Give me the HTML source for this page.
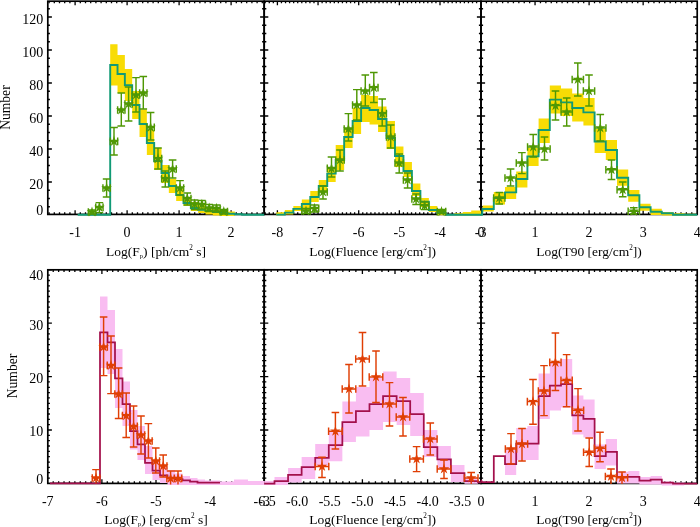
<!DOCTYPE html>
<html><head><meta charset="utf-8"><title>Histograms</title>
<style>
html,body{margin:0;padding:0;background:#fff;}
body{width:700px;height:527px;overflow:hidden;font-family:"Liberation Serif",serif;}
svg{display:block;}
</style></head><body>
<svg width="700" height="527" viewBox="0 0 700 527">
<rect x="0" y="0" width="700" height="527" fill="#fff"/>
<path d="M49.1 214.4v-2.1M49.1 1.2v2.1M54.3 214.4v-2.1M54.3 1.2v2.1M59.5 214.4v-2.1M59.5 1.2v2.1M64.7 214.4v-2.1M64.7 1.2v2.1M69.9 214.4v-2.1M69.9 1.2v2.1M75.1 214.4v-2.1M75.1 1.2v2.1M80.3 214.4v-2.1M80.3 1.2v2.1M85.5 214.4v-2.1M85.5 1.2v2.1M90.7 214.4v-2.1M90.7 1.2v2.1M95.9 214.4v-2.1M95.9 1.2v2.1M101.1 214.4v-2.1M101.1 1.2v2.1M106.3 214.4v-2.1M106.3 1.2v2.1M111.5 214.4v-2.1M111.5 1.2v2.1M116.7 214.4v-2.1M116.7 1.2v2.1M121.9 214.4v-2.1M121.9 1.2v2.1M127.1 214.4v-2.1M127.1 1.2v2.1M132.3 214.4v-2.1M132.3 1.2v2.1M137.5 214.4v-2.1M137.5 1.2v2.1M142.7 214.4v-2.1M142.7 1.2v2.1M147.9 214.4v-2.1M147.9 1.2v2.1M153.1 214.4v-2.1M153.1 1.2v2.1M158.3 214.4v-2.1M158.3 1.2v2.1M163.5 214.4v-2.1M163.5 1.2v2.1M168.7 214.4v-2.1M168.7 1.2v2.1M173.9 214.4v-2.1M173.9 1.2v2.1M179.1 214.4v-2.1M179.1 1.2v2.1M184.3 214.4v-2.1M184.3 1.2v2.1M189.5 214.4v-2.1M189.5 1.2v2.1M194.7 214.4v-2.1M194.7 1.2v2.1M199.9 214.4v-2.1M199.9 1.2v2.1M205.1 214.4v-2.1M205.1 1.2v2.1M210.3 214.4v-2.1M210.3 1.2v2.1M215.5 214.4v-2.1M215.5 1.2v2.1M220.7 214.4v-2.1M220.7 1.2v2.1M225.9 214.4v-2.1M225.9 1.2v2.1M231.1 214.4v-2.1M231.1 1.2v2.1M236.3 214.4v-2.1M236.3 1.2v2.1M241.5 214.4v-2.1M241.5 1.2v2.1M246.7 214.4v-2.1M246.7 1.2v2.1M251.9 214.4v-2.1M251.9 1.2v2.1M257.1 214.4v-2.1M257.1 1.2v2.1M262.3 214.4v-2.1M262.3 1.2v2.1M75.1 214.4v-4.1M75.1 1.2v4.1M127.1 214.4v-4.1M127.1 1.2v4.1M179.1 214.4v-4.1M179.1 1.2v4.1M231.1 214.4v-4.1M231.1 1.2v4.1M47.8 206.75h2.1M264.2 206.75h-2.1M47.8 198.5h2.1M264.2 198.5h-2.1M47.8 190.25h2.1M264.2 190.25h-2.1M47.8 182h2.1M264.2 182h-2.1M47.8 173.75h2.1M264.2 173.75h-2.1M47.8 165.5h2.1M264.2 165.5h-2.1M47.8 157.25h2.1M264.2 157.25h-2.1M47.8 149h2.1M264.2 149h-2.1M47.8 140.75h2.1M264.2 140.75h-2.1M47.8 132.5h2.1M264.2 132.5h-2.1M47.8 124.25h2.1M264.2 124.25h-2.1M47.8 116h2.1M264.2 116h-2.1M47.8 107.75h2.1M264.2 107.75h-2.1M47.8 99.5h2.1M264.2 99.5h-2.1M47.8 91.25h2.1M264.2 91.25h-2.1M47.8 83h2.1M264.2 83h-2.1M47.8 74.75h2.1M264.2 74.75h-2.1M47.8 66.5h2.1M264.2 66.5h-2.1M47.8 58.25h2.1M264.2 58.25h-2.1M47.8 50h2.1M264.2 50h-2.1M47.8 41.75h2.1M264.2 41.75h-2.1M47.8 33.5h2.1M264.2 33.5h-2.1M47.8 25.25h2.1M264.2 25.25h-2.1M47.8 17h2.1M264.2 17h-2.1M47.8 8.75h2.1M264.2 8.75h-2.1M47.8 182h4.1M264.2 182h-4.1M47.8 149h4.1M264.2 149h-4.1M47.8 116h4.1M264.2 116h-4.1M47.8 83h4.1M264.2 83h-4.1M47.8 50h4.1M264.2 50h-4.1M47.8 17h4.1M264.2 17h-4.1" fill="none" stroke="#000" stroke-width="1.3"/>
<rect x="47.8" y="1.2" width="216.4" height="213.2" fill="none" stroke="#000" stroke-width="1.7"/>
<path d="M265.2 214.4v-2.1M265.2 1.2v2.1M269.27 214.4v-2.1M269.27 1.2v2.1M273.33 214.4v-2.1M273.33 1.2v2.1M277.4 214.4v-2.1M277.4 1.2v2.1M281.46 214.4v-2.1M281.46 1.2v2.1M285.53 214.4v-2.1M285.53 1.2v2.1M289.59 214.4v-2.1M289.59 1.2v2.1M293.66 214.4v-2.1M293.66 1.2v2.1M297.72 214.4v-2.1M297.72 1.2v2.1M301.79 214.4v-2.1M301.79 1.2v2.1M305.85 214.4v-2.1M305.85 1.2v2.1M309.92 214.4v-2.1M309.92 1.2v2.1M313.98 214.4v-2.1M313.98 1.2v2.1M318.05 214.4v-2.1M318.05 1.2v2.1M322.12 214.4v-2.1M322.12 1.2v2.1M326.18 214.4v-2.1M326.18 1.2v2.1M330.25 214.4v-2.1M330.25 1.2v2.1M334.31 214.4v-2.1M334.31 1.2v2.1M338.38 214.4v-2.1M338.38 1.2v2.1M342.44 214.4v-2.1M342.44 1.2v2.1M346.5 214.4v-2.1M346.5 1.2v2.1M350.57 214.4v-2.1M350.57 1.2v2.1M354.63 214.4v-2.1M354.63 1.2v2.1M358.7 214.4v-2.1M358.7 1.2v2.1M362.76 214.4v-2.1M362.76 1.2v2.1M366.83 214.4v-2.1M366.83 1.2v2.1M370.89 214.4v-2.1M370.89 1.2v2.1M374.96 214.4v-2.1M374.96 1.2v2.1M379.02 214.4v-2.1M379.02 1.2v2.1M383.09 214.4v-2.1M383.09 1.2v2.1M387.15 214.4v-2.1M387.15 1.2v2.1M391.22 214.4v-2.1M391.22 1.2v2.1M395.28 214.4v-2.1M395.28 1.2v2.1M399.35 214.4v-2.1M399.35 1.2v2.1M403.41 214.4v-2.1M403.41 1.2v2.1M407.48 214.4v-2.1M407.48 1.2v2.1M411.54 214.4v-2.1M411.54 1.2v2.1M415.61 214.4v-2.1M415.61 1.2v2.1M419.67 214.4v-2.1M419.67 1.2v2.1M423.74 214.4v-2.1M423.74 1.2v2.1M427.8 214.4v-2.1M427.8 1.2v2.1M431.87 214.4v-2.1M431.87 1.2v2.1M435.94 214.4v-2.1M435.94 1.2v2.1M440 214.4v-2.1M440 1.2v2.1M444.06 214.4v-2.1M444.06 1.2v2.1M448.13 214.4v-2.1M448.13 1.2v2.1M452.19 214.4v-2.1M452.19 1.2v2.1M456.26 214.4v-2.1M456.26 1.2v2.1M460.32 214.4v-2.1M460.32 1.2v2.1M464.39 214.4v-2.1M464.39 1.2v2.1M468.45 214.4v-2.1M468.45 1.2v2.1M472.52 214.4v-2.1M472.52 1.2v2.1M476.59 214.4v-2.1M476.59 1.2v2.1M277.4 214.4v-4.1M277.4 1.2v4.1M318.05 214.4v-4.1M318.05 1.2v4.1M358.7 214.4v-4.1M358.7 1.2v4.1M399.35 214.4v-4.1M399.35 1.2v4.1M440 214.4v-4.1M440 1.2v4.1M264.2 206.75h2.1M481 206.75h-2.1M264.2 198.5h2.1M481 198.5h-2.1M264.2 190.25h2.1M481 190.25h-2.1M264.2 182h2.1M481 182h-2.1M264.2 173.75h2.1M481 173.75h-2.1M264.2 165.5h2.1M481 165.5h-2.1M264.2 157.25h2.1M481 157.25h-2.1M264.2 149h2.1M481 149h-2.1M264.2 140.75h2.1M481 140.75h-2.1M264.2 132.5h2.1M481 132.5h-2.1M264.2 124.25h2.1M481 124.25h-2.1M264.2 116h2.1M481 116h-2.1M264.2 107.75h2.1M481 107.75h-2.1M264.2 99.5h2.1M481 99.5h-2.1M264.2 91.25h2.1M481 91.25h-2.1M264.2 83h2.1M481 83h-2.1M264.2 74.75h2.1M481 74.75h-2.1M264.2 66.5h2.1M481 66.5h-2.1M264.2 58.25h2.1M481 58.25h-2.1M264.2 50h2.1M481 50h-2.1M264.2 41.75h2.1M481 41.75h-2.1M264.2 33.5h2.1M481 33.5h-2.1M264.2 25.25h2.1M481 25.25h-2.1M264.2 17h2.1M481 17h-2.1M264.2 8.75h2.1M481 8.75h-2.1M264.2 182h4.1M481 182h-4.1M264.2 149h4.1M481 149h-4.1M264.2 116h4.1M481 116h-4.1M264.2 83h4.1M481 83h-4.1M264.2 50h4.1M481 50h-4.1M264.2 17h4.1M481 17h-4.1" fill="none" stroke="#000" stroke-width="1.3"/>
<rect x="264.2" y="1.2" width="216.8" height="213.2" fill="none" stroke="#000" stroke-width="1.7"/>
<path d="M486.4 214.4v-2.1M486.4 1.2v2.1M491.81 214.4v-2.1M491.81 1.2v2.1M497.21 214.4v-2.1M497.21 1.2v2.1M502.62 214.4v-2.1M502.62 1.2v2.1M508.02 214.4v-2.1M508.02 1.2v2.1M513.43 214.4v-2.1M513.43 1.2v2.1M518.84 214.4v-2.1M518.84 1.2v2.1M524.24 214.4v-2.1M524.24 1.2v2.1M529.64 214.4v-2.1M529.64 1.2v2.1M535.05 214.4v-2.1M535.05 1.2v2.1M540.46 214.4v-2.1M540.46 1.2v2.1M545.86 214.4v-2.1M545.86 1.2v2.1M551.26 214.4v-2.1M551.26 1.2v2.1M556.67 214.4v-2.1M556.67 1.2v2.1M562.08 214.4v-2.1M562.08 1.2v2.1M567.48 214.4v-2.1M567.48 1.2v2.1M572.88 214.4v-2.1M572.88 1.2v2.1M578.29 214.4v-2.1M578.29 1.2v2.1M583.7 214.4v-2.1M583.7 1.2v2.1M589.1 214.4v-2.1M589.1 1.2v2.1M594.5 214.4v-2.1M594.5 1.2v2.1M599.91 214.4v-2.1M599.91 1.2v2.1M605.32 214.4v-2.1M605.32 1.2v2.1M610.72 214.4v-2.1M610.72 1.2v2.1M616.12 214.4v-2.1M616.12 1.2v2.1M621.53 214.4v-2.1M621.53 1.2v2.1M626.93 214.4v-2.1M626.93 1.2v2.1M632.34 214.4v-2.1M632.34 1.2v2.1M637.75 214.4v-2.1M637.75 1.2v2.1M643.15 214.4v-2.1M643.15 1.2v2.1M648.56 214.4v-2.1M648.56 1.2v2.1M653.96 214.4v-2.1M653.96 1.2v2.1M659.37 214.4v-2.1M659.37 1.2v2.1M664.77 214.4v-2.1M664.77 1.2v2.1M670.17 214.4v-2.1M670.17 1.2v2.1M675.58 214.4v-2.1M675.58 1.2v2.1M680.99 214.4v-2.1M680.99 1.2v2.1M686.39 214.4v-2.1M686.39 1.2v2.1M691.8 214.4v-2.1M691.8 1.2v2.1M535.05 214.4v-4.1M535.05 1.2v4.1M589.1 214.4v-4.1M589.1 1.2v4.1M643.15 214.4v-4.1M643.15 1.2v4.1M481 206.75h2.1M697.2 206.75h-2.1M481 198.5h2.1M697.2 198.5h-2.1M481 190.25h2.1M697.2 190.25h-2.1M481 182h2.1M697.2 182h-2.1M481 173.75h2.1M697.2 173.75h-2.1M481 165.5h2.1M697.2 165.5h-2.1M481 157.25h2.1M697.2 157.25h-2.1M481 149h2.1M697.2 149h-2.1M481 140.75h2.1M697.2 140.75h-2.1M481 132.5h2.1M697.2 132.5h-2.1M481 124.25h2.1M697.2 124.25h-2.1M481 116h2.1M697.2 116h-2.1M481 107.75h2.1M697.2 107.75h-2.1M481 99.5h2.1M697.2 99.5h-2.1M481 91.25h2.1M697.2 91.25h-2.1M481 83h2.1M697.2 83h-2.1M481 74.75h2.1M697.2 74.75h-2.1M481 66.5h2.1M697.2 66.5h-2.1M481 58.25h2.1M697.2 58.25h-2.1M481 50h2.1M697.2 50h-2.1M481 41.75h2.1M697.2 41.75h-2.1M481 33.5h2.1M697.2 33.5h-2.1M481 25.25h2.1M697.2 25.25h-2.1M481 17h2.1M697.2 17h-2.1M481 8.75h2.1M697.2 8.75h-2.1M481 182h4.1M697.2 182h-4.1M481 149h4.1M697.2 149h-4.1M481 116h4.1M697.2 116h-4.1M481 83h4.1M697.2 83h-4.1M481 50h4.1M697.2 50h-4.1M481 17h4.1M697.2 17h-4.1" fill="none" stroke="#000" stroke-width="1.3"/>
<rect x="481" y="1.2" width="216.2" height="213.2" fill="none" stroke="#000" stroke-width="1.7"/>
<path d="M53.21 483.4v-2.1M53.21 269.8v2.1M58.62 483.4v-2.1M58.62 269.8v2.1M64.03 483.4v-2.1M64.03 269.8v2.1M69.44 483.4v-2.1M69.44 269.8v2.1M74.85 483.4v-2.1M74.85 269.8v2.1M80.26 483.4v-2.1M80.26 269.8v2.1M85.67 483.4v-2.1M85.67 269.8v2.1M91.08 483.4v-2.1M91.08 269.8v2.1M96.49 483.4v-2.1M96.49 269.8v2.1M101.9 483.4v-2.1M101.9 269.8v2.1M107.31 483.4v-2.1M107.31 269.8v2.1M112.72 483.4v-2.1M112.72 269.8v2.1M118.13 483.4v-2.1M118.13 269.8v2.1M123.54 483.4v-2.1M123.54 269.8v2.1M128.95 483.4v-2.1M128.95 269.8v2.1M134.36 483.4v-2.1M134.36 269.8v2.1M139.77 483.4v-2.1M139.77 269.8v2.1M145.18 483.4v-2.1M145.18 269.8v2.1M150.59 483.4v-2.1M150.59 269.8v2.1M156 483.4v-2.1M156 269.8v2.1M161.41 483.4v-2.1M161.41 269.8v2.1M166.82 483.4v-2.1M166.82 269.8v2.1M172.23 483.4v-2.1M172.23 269.8v2.1M177.64 483.4v-2.1M177.64 269.8v2.1M183.05 483.4v-2.1M183.05 269.8v2.1M188.46 483.4v-2.1M188.46 269.8v2.1M193.87 483.4v-2.1M193.87 269.8v2.1M199.28 483.4v-2.1M199.28 269.8v2.1M204.69 483.4v-2.1M204.69 269.8v2.1M210.1 483.4v-2.1M210.1 269.8v2.1M215.51 483.4v-2.1M215.51 269.8v2.1M220.92 483.4v-2.1M220.92 269.8v2.1M226.33 483.4v-2.1M226.33 269.8v2.1M231.74 483.4v-2.1M231.74 269.8v2.1M237.15 483.4v-2.1M237.15 269.8v2.1M242.56 483.4v-2.1M242.56 269.8v2.1M247.97 483.4v-2.1M247.97 269.8v2.1M253.38 483.4v-2.1M253.38 269.8v2.1M258.79 483.4v-2.1M258.79 269.8v2.1M101.9 483.4v-4.1M101.9 269.8v4.1M156 483.4v-4.1M156 269.8v4.1M210.1 483.4v-4.1M210.1 269.8v4.1M47.8 478.06h2.1M264.2 478.06h-2.1M47.8 472.72h2.1M264.2 472.72h-2.1M47.8 467.38h2.1M264.2 467.38h-2.1M47.8 462.04h2.1M264.2 462.04h-2.1M47.8 456.7h2.1M264.2 456.7h-2.1M47.8 451.36h2.1M264.2 451.36h-2.1M47.8 446.02h2.1M264.2 446.02h-2.1M47.8 440.68h2.1M264.2 440.68h-2.1M47.8 435.34h2.1M264.2 435.34h-2.1M47.8 430h2.1M264.2 430h-2.1M47.8 424.66h2.1M264.2 424.66h-2.1M47.8 419.32h2.1M264.2 419.32h-2.1M47.8 413.98h2.1M264.2 413.98h-2.1M47.8 408.64h2.1M264.2 408.64h-2.1M47.8 403.3h2.1M264.2 403.3h-2.1M47.8 397.96h2.1M264.2 397.96h-2.1M47.8 392.62h2.1M264.2 392.62h-2.1M47.8 387.28h2.1M264.2 387.28h-2.1M47.8 381.94h2.1M264.2 381.94h-2.1M47.8 376.6h2.1M264.2 376.6h-2.1M47.8 371.26h2.1M264.2 371.26h-2.1M47.8 365.92h2.1M264.2 365.92h-2.1M47.8 360.58h2.1M264.2 360.58h-2.1M47.8 355.24h2.1M264.2 355.24h-2.1M47.8 349.9h2.1M264.2 349.9h-2.1M47.8 344.56h2.1M264.2 344.56h-2.1M47.8 339.22h2.1M264.2 339.22h-2.1M47.8 333.88h2.1M264.2 333.88h-2.1M47.8 328.54h2.1M264.2 328.54h-2.1M47.8 323.2h2.1M264.2 323.2h-2.1M47.8 317.86h2.1M264.2 317.86h-2.1M47.8 312.52h2.1M264.2 312.52h-2.1M47.8 307.18h2.1M264.2 307.18h-2.1M47.8 301.84h2.1M264.2 301.84h-2.1M47.8 296.5h2.1M264.2 296.5h-2.1M47.8 291.16h2.1M264.2 291.16h-2.1M47.8 285.82h2.1M264.2 285.82h-2.1M47.8 280.48h2.1M264.2 280.48h-2.1M47.8 275.14h2.1M264.2 275.14h-2.1M47.8 430h4.1M264.2 430h-4.1M47.8 376.6h4.1M264.2 376.6h-4.1M47.8 323.2h4.1M264.2 323.2h-4.1M47.8 269.8h4.1M264.2 269.8h-4.1" fill="none" stroke="#000" stroke-width="1.3"/>
<rect x="47.8" y="269.8" width="216.4" height="213.6" fill="none" stroke="#000" stroke-width="1.7"/>
<path d="M271.12 483.4v-2.1M271.12 269.8v2.1M277.64 483.4v-2.1M277.64 269.8v2.1M284.16 483.4v-2.1M284.16 269.8v2.1M290.68 483.4v-2.1M290.68 269.8v2.1M297.2 483.4v-2.1M297.2 269.8v2.1M303.72 483.4v-2.1M303.72 269.8v2.1M310.24 483.4v-2.1M310.24 269.8v2.1M316.76 483.4v-2.1M316.76 269.8v2.1M323.28 483.4v-2.1M323.28 269.8v2.1M329.8 483.4v-2.1M329.8 269.8v2.1M336.32 483.4v-2.1M336.32 269.8v2.1M342.84 483.4v-2.1M342.84 269.8v2.1M349.36 483.4v-2.1M349.36 269.8v2.1M355.88 483.4v-2.1M355.88 269.8v2.1M362.4 483.4v-2.1M362.4 269.8v2.1M368.92 483.4v-2.1M368.92 269.8v2.1M375.44 483.4v-2.1M375.44 269.8v2.1M381.96 483.4v-2.1M381.96 269.8v2.1M388.48 483.4v-2.1M388.48 269.8v2.1M395 483.4v-2.1M395 269.8v2.1M401.52 483.4v-2.1M401.52 269.8v2.1M408.04 483.4v-2.1M408.04 269.8v2.1M414.56 483.4v-2.1M414.56 269.8v2.1M421.08 483.4v-2.1M421.08 269.8v2.1M427.6 483.4v-2.1M427.6 269.8v2.1M434.12 483.4v-2.1M434.12 269.8v2.1M440.64 483.4v-2.1M440.64 269.8v2.1M447.16 483.4v-2.1M447.16 269.8v2.1M453.68 483.4v-2.1M453.68 269.8v2.1M460.2 483.4v-2.1M460.2 269.8v2.1M466.72 483.4v-2.1M466.72 269.8v2.1M473.24 483.4v-2.1M473.24 269.8v2.1M479.76 483.4v-2.1M479.76 269.8v2.1M297.2 483.4v-4.1M297.2 269.8v4.1M329.8 483.4v-4.1M329.8 269.8v4.1M362.4 483.4v-4.1M362.4 269.8v4.1M395 483.4v-4.1M395 269.8v4.1M427.6 483.4v-4.1M427.6 269.8v4.1M460.2 483.4v-4.1M460.2 269.8v4.1M264.2 478.06h2.1M481 478.06h-2.1M264.2 472.72h2.1M481 472.72h-2.1M264.2 467.38h2.1M481 467.38h-2.1M264.2 462.04h2.1M481 462.04h-2.1M264.2 456.7h2.1M481 456.7h-2.1M264.2 451.36h2.1M481 451.36h-2.1M264.2 446.02h2.1M481 446.02h-2.1M264.2 440.68h2.1M481 440.68h-2.1M264.2 435.34h2.1M481 435.34h-2.1M264.2 430h2.1M481 430h-2.1M264.2 424.66h2.1M481 424.66h-2.1M264.2 419.32h2.1M481 419.32h-2.1M264.2 413.98h2.1M481 413.98h-2.1M264.2 408.64h2.1M481 408.64h-2.1M264.2 403.3h2.1M481 403.3h-2.1M264.2 397.96h2.1M481 397.96h-2.1M264.2 392.62h2.1M481 392.62h-2.1M264.2 387.28h2.1M481 387.28h-2.1M264.2 381.94h2.1M481 381.94h-2.1M264.2 376.6h2.1M481 376.6h-2.1M264.2 371.26h2.1M481 371.26h-2.1M264.2 365.92h2.1M481 365.92h-2.1M264.2 360.58h2.1M481 360.58h-2.1M264.2 355.24h2.1M481 355.24h-2.1M264.2 349.9h2.1M481 349.9h-2.1M264.2 344.56h2.1M481 344.56h-2.1M264.2 339.22h2.1M481 339.22h-2.1M264.2 333.88h2.1M481 333.88h-2.1M264.2 328.54h2.1M481 328.54h-2.1M264.2 323.2h2.1M481 323.2h-2.1M264.2 317.86h2.1M481 317.86h-2.1M264.2 312.52h2.1M481 312.52h-2.1M264.2 307.18h2.1M481 307.18h-2.1M264.2 301.84h2.1M481 301.84h-2.1M264.2 296.5h2.1M481 296.5h-2.1M264.2 291.16h2.1M481 291.16h-2.1M264.2 285.82h2.1M481 285.82h-2.1M264.2 280.48h2.1M481 280.48h-2.1M264.2 275.14h2.1M481 275.14h-2.1M264.2 430h4.1M481 430h-4.1M264.2 376.6h4.1M481 376.6h-4.1M264.2 323.2h4.1M481 323.2h-4.1M264.2 269.8h4.1M481 269.8h-4.1" fill="none" stroke="#000" stroke-width="1.3"/>
<rect x="264.2" y="269.8" width="216.8" height="213.6" fill="none" stroke="#000" stroke-width="1.7"/>
<path d="M486.4 483.4v-2.1M486.4 269.8v2.1M491.81 483.4v-2.1M491.81 269.8v2.1M497.21 483.4v-2.1M497.21 269.8v2.1M502.62 483.4v-2.1M502.62 269.8v2.1M508.02 483.4v-2.1M508.02 269.8v2.1M513.43 483.4v-2.1M513.43 269.8v2.1M518.84 483.4v-2.1M518.84 269.8v2.1M524.24 483.4v-2.1M524.24 269.8v2.1M529.64 483.4v-2.1M529.64 269.8v2.1M535.05 483.4v-2.1M535.05 269.8v2.1M540.46 483.4v-2.1M540.46 269.8v2.1M545.86 483.4v-2.1M545.86 269.8v2.1M551.26 483.4v-2.1M551.26 269.8v2.1M556.67 483.4v-2.1M556.67 269.8v2.1M562.08 483.4v-2.1M562.08 269.8v2.1M567.48 483.4v-2.1M567.48 269.8v2.1M572.88 483.4v-2.1M572.88 269.8v2.1M578.29 483.4v-2.1M578.29 269.8v2.1M583.7 483.4v-2.1M583.7 269.8v2.1M589.1 483.4v-2.1M589.1 269.8v2.1M594.5 483.4v-2.1M594.5 269.8v2.1M599.91 483.4v-2.1M599.91 269.8v2.1M605.32 483.4v-2.1M605.32 269.8v2.1M610.72 483.4v-2.1M610.72 269.8v2.1M616.12 483.4v-2.1M616.12 269.8v2.1M621.53 483.4v-2.1M621.53 269.8v2.1M626.93 483.4v-2.1M626.93 269.8v2.1M632.34 483.4v-2.1M632.34 269.8v2.1M637.75 483.4v-2.1M637.75 269.8v2.1M643.15 483.4v-2.1M643.15 269.8v2.1M648.56 483.4v-2.1M648.56 269.8v2.1M653.96 483.4v-2.1M653.96 269.8v2.1M659.37 483.4v-2.1M659.37 269.8v2.1M664.77 483.4v-2.1M664.77 269.8v2.1M670.17 483.4v-2.1M670.17 269.8v2.1M675.58 483.4v-2.1M675.58 269.8v2.1M680.99 483.4v-2.1M680.99 269.8v2.1M686.39 483.4v-2.1M686.39 269.8v2.1M691.8 483.4v-2.1M691.8 269.8v2.1M535.05 483.4v-4.1M535.05 269.8v4.1M589.1 483.4v-4.1M589.1 269.8v4.1M643.15 483.4v-4.1M643.15 269.8v4.1M481 478.06h2.1M697.2 478.06h-2.1M481 472.72h2.1M697.2 472.72h-2.1M481 467.38h2.1M697.2 467.38h-2.1M481 462.04h2.1M697.2 462.04h-2.1M481 456.7h2.1M697.2 456.7h-2.1M481 451.36h2.1M697.2 451.36h-2.1M481 446.02h2.1M697.2 446.02h-2.1M481 440.68h2.1M697.2 440.68h-2.1M481 435.34h2.1M697.2 435.34h-2.1M481 430h2.1M697.2 430h-2.1M481 424.66h2.1M697.2 424.66h-2.1M481 419.32h2.1M697.2 419.32h-2.1M481 413.98h2.1M697.2 413.98h-2.1M481 408.64h2.1M697.2 408.64h-2.1M481 403.3h2.1M697.2 403.3h-2.1M481 397.96h2.1M697.2 397.96h-2.1M481 392.62h2.1M697.2 392.62h-2.1M481 387.28h2.1M697.2 387.28h-2.1M481 381.94h2.1M697.2 381.94h-2.1M481 376.6h2.1M697.2 376.6h-2.1M481 371.26h2.1M697.2 371.26h-2.1M481 365.92h2.1M697.2 365.92h-2.1M481 360.58h2.1M697.2 360.58h-2.1M481 355.24h2.1M697.2 355.24h-2.1M481 349.9h2.1M697.2 349.9h-2.1M481 344.56h2.1M697.2 344.56h-2.1M481 339.22h2.1M697.2 339.22h-2.1M481 333.88h2.1M697.2 333.88h-2.1M481 328.54h2.1M697.2 328.54h-2.1M481 323.2h2.1M697.2 323.2h-2.1M481 317.86h2.1M697.2 317.86h-2.1M481 312.52h2.1M697.2 312.52h-2.1M481 307.18h2.1M697.2 307.18h-2.1M481 301.84h2.1M697.2 301.84h-2.1M481 296.5h2.1M697.2 296.5h-2.1M481 291.16h2.1M697.2 291.16h-2.1M481 285.82h2.1M697.2 285.82h-2.1M481 280.48h2.1M697.2 280.48h-2.1M481 275.14h2.1M697.2 275.14h-2.1M481 430h4.1M697.2 430h-4.1M481 376.6h4.1M697.2 376.6h-4.1M481 323.2h4.1M697.2 323.2h-4.1M481 269.8h4.1M697.2 269.8h-4.1" fill="none" stroke="#000" stroke-width="1.3"/>
<rect x="481" y="269.8" width="216.2" height="213.6" fill="none" stroke="#000" stroke-width="1.7"/>
<path d="M110.2 44.3 L117.53 44.3 L117.53 55 L124.86 55 L124.86 69 L132.19 69 L132.19 91 L139.52 91 L139.52 109.6 L146.85 109.6 L146.85 130 L154.18 130 L154.18 148 L161.51 148 L161.51 165 L168.84 165 L168.84 179 L176.17 179 L176.17 189 L183.5 189 L183.5 197 L190.83 197 L190.83 202 L198.16 202 L198.16 205 L205.49 205 L205.49 207.5 L212.82 207.5 L212.82 209 L220.15 209 L220.15 210.5 L227.48 210.5 L227.48 211.5 L234.81 211.5 L234.81 216 L227.48 216 L227.48 216 L220.15 216 L220.15 215.5 L212.82 215.5 L212.82 214.5 L205.49 214.5 L205.49 213 L198.16 213 L198.16 211 L190.83 211 L190.83 206 L183.5 206 L183.5 201 L176.17 201 L176.17 193 L168.84 193 L168.84 183 L161.51 183 L161.51 170 L154.18 170 L154.18 155 L146.85 155 L146.85 137 L139.52 137 L139.52 119 L132.19 119 L132.19 101 L124.86 101 L124.86 93 L117.53 93 L117.53 85.5 L110.2 85.5Z" fill="#F8DC05"/>
<path d="M77.7 214.7 L110.2 214.7 L110.2 65 L117.53 65 L117.53 74 L124.86 74 L124.86 85.3 L132.19 85.3 L132.19 105 L139.52 105 L139.52 124 L146.85 124 L146.85 143 L154.18 143 L154.18 161 L161.51 161 L161.51 173 L168.84 173 L168.84 186 L176.17 186 L176.17 195 L183.5 195 L183.5 203 L190.83 203 L190.83 208 L198.16 208 L198.16 209.8 L205.49 209.8 L205.49 211 L212.82 211 L212.82 212 L220.15 212 L220.15 213 L227.48 213 L227.48 213.7 L234.81 213.7 L234.81 214.3 L242.14 214.3 L242.14 214.7 L264.2 214.7" fill="none" stroke="#109A76" stroke-width="1.9" stroke-linejoin="miter"/>
<path d="M92 210V214M88.2 210H95.8M88.2 214H95.8M88.33 212H95.67M88.33 208.2V215.8M95.67 208.2V215.8M99.4 202.6V212.6M95.6 202.6H103.2M95.6 212.6H103.2M95.73 207.4H103.07M95.73 203.6V211.2M103.07 203.6V211.2M106.6 179V197M102.8 179H110.4M102.8 197H110.4M102.93 188H110.27M102.93 184.2V191.8M110.27 184.2V191.8M114 127.4V155M110.2 127.4H117.8M110.2 155H117.8M110.33 141.4H117.67M110.33 137.6V145.2M117.67 137.6V145.2M121.3 93V126M117.5 93H125.1M117.5 126H125.1M117.63 110H124.97M117.63 106.2V113.8M124.97 106.2V113.8M128.6 87V121M124.8 87H132.4M124.8 121H132.4M124.93 104H132.27M124.93 100.2V107.8M132.27 100.2V107.8M136 77.6V112M132.2 77.6H139.8M132.2 112H139.8M132.33 95H139.67M132.33 91.2V98.8M139.67 91.2V98.8M143.3 76.4V109M139.5 76.4H147.1M139.5 109H147.1M139.63 93H146.97M139.63 89.2V96.8M146.97 89.2V96.8M150.6 112.4V140M146.8 112.4H154.4M146.8 140H154.4M146.93 127.4H154.27M146.93 123.6V131.2M154.27 123.6V131.2M158 148V169M154.2 148H161.8M154.2 169H161.8M154.33 158.6H161.67M154.33 154.8V162.4M161.67 154.8V162.4M165.3 171V187M161.5 171H169.1M161.5 187H169.1M161.63 178.6H168.97M161.63 174.8V182.4M168.97 174.8V182.4M172.6 160V178M168.8 160H176.4M168.8 178H176.4M168.93 169H176.27M168.93 165.2V172.8M176.27 165.2V172.8M180 180.6V195M176.2 180.6H183.8M176.2 195H183.8M176.33 188H183.67M176.33 184.2V191.8M183.67 184.2V191.8M187.3 193V205M183.5 193H191.1M183.5 205H191.1M183.63 198.5H190.97M183.63 194.7V202.3M190.97 194.7V202.3M194.6 200V209.5M190.8 200H198.4M190.8 209.5H198.4M190.93 204H198.27M190.93 200.2V207.8M198.27 200.2V207.8M201.9 200.5V209M198.1 200.5H205.7M198.1 209H205.7M198.23 204.4H205.57M198.23 200.6V208.2M205.57 200.6V208.2M209.2 204.5V211.5M205.4 204.5H213M205.4 211.5H213M205.53 208H212.87M205.53 204.2V211.8M212.87 204.2V211.8M216.5 205V212M212.7 205H220.3M212.7 212H220.3M212.83 208.4H220.17M212.83 204.6V212.2M220.17 204.6V212.2M223.8 209.5V214M220 209.5H227.6M220 214H227.6M220.13 211.6H227.47M220.13 207.8V215.4M227.47 207.8V215.4" fill="none" stroke="#4F9804" stroke-width="1.45"/>
<g fill="#4F9804"><polygon points="92,206.4 93.23,210.3 97.33,210.27 94,212.65 95.29,216.53 92,214.1 88.71,216.53 90,212.65 86.67,210.27 90.77,210.3"/><polygon points="99.4,201.8 100.63,205.7 104.73,205.67 101.4,208.05 102.69,211.93 99.4,209.5 96.11,211.93 97.4,208.05 94.07,205.67 98.17,205.7"/><polygon points="106.6,182.4 107.83,186.3 111.93,186.27 108.6,188.65 109.89,192.53 106.6,190.1 103.31,192.53 104.6,188.65 101.27,186.27 105.37,186.3"/><polygon points="114,135.8 115.23,139.7 119.33,139.67 116,142.05 117.29,145.93 114,143.5 110.71,145.93 112,142.05 108.67,139.67 112.77,139.7"/><polygon points="121.3,104.4 122.53,108.3 126.63,108.27 123.3,110.65 124.59,114.53 121.3,112.1 118.01,114.53 119.3,110.65 115.97,108.27 120.07,108.3"/><polygon points="128.6,98.4 129.83,102.3 133.93,102.27 130.6,104.65 131.89,108.53 128.6,106.1 125.31,108.53 126.6,104.65 123.27,102.27 127.37,102.3"/><polygon points="136,89.4 137.23,93.3 141.33,93.27 138,95.65 139.29,99.53 136,97.1 132.71,99.53 134,95.65 130.67,93.27 134.77,93.3"/><polygon points="143.3,87.4 144.53,91.3 148.63,91.27 145.3,93.65 146.59,97.53 143.3,95.1 140.01,97.53 141.3,93.65 137.97,91.27 142.07,91.3"/><polygon points="150.6,121.8 151.83,125.7 155.93,125.67 152.6,128.05 153.89,131.93 150.6,129.5 147.31,131.93 148.6,128.05 145.27,125.67 149.37,125.7"/><polygon points="158,153 159.23,156.9 163.33,156.87 160,159.25 161.29,163.13 158,160.7 154.71,163.13 156,159.25 152.67,156.87 156.77,156.9"/><polygon points="165.3,173 166.53,176.9 170.63,176.87 167.3,179.25 168.59,183.13 165.3,180.7 162.01,183.13 163.3,179.25 159.97,176.87 164.07,176.9"/><polygon points="172.6,163.4 173.83,167.3 177.93,167.27 174.6,169.65 175.89,173.53 172.6,171.1 169.31,173.53 170.6,169.65 167.27,167.27 171.37,167.3"/><polygon points="180,182.4 181.23,186.3 185.33,186.27 182,188.65 183.29,192.53 180,190.1 176.71,192.53 178,188.65 174.67,186.27 178.77,186.3"/><polygon points="187.3,192.9 188.53,196.8 192.63,196.77 189.3,199.15 190.59,203.03 187.3,200.6 184.01,203.03 185.3,199.15 181.97,196.77 186.07,196.8"/><polygon points="194.6,198.4 195.83,202.3 199.93,202.27 196.6,204.65 197.89,208.53 194.6,206.1 191.31,208.53 192.6,204.65 189.27,202.27 193.37,202.3"/><polygon points="201.9,198.8 203.13,202.7 207.23,202.67 203.9,205.05 205.19,208.93 201.9,206.5 198.61,208.93 199.9,205.05 196.57,202.67 200.67,202.7"/><polygon points="209.2,202.4 210.43,206.3 214.53,206.27 211.2,208.65 212.49,212.53 209.2,210.1 205.91,212.53 207.2,208.65 203.87,206.27 207.97,206.3"/><polygon points="216.5,202.8 217.73,206.7 221.83,206.67 218.5,209.05 219.79,212.93 216.5,210.5 213.21,212.93 214.5,209.05 211.17,206.67 215.27,206.7"/><polygon points="223.8,206 225.03,209.9 229.13,209.87 225.8,212.25 227.09,216.13 223.8,213.7 220.51,216.13 221.8,212.25 218.47,209.87 222.57,209.9"/></g>
<path d="M276.4 212.2 L284.87 212.2 L284.87 210 L293.34 210 L293.34 206 L301.81 206 L301.81 199.6 L310.28 199.6 L310.28 191 L318.75 191 L318.75 180 L327.22 180 L327.22 167 L335.69 167 L335.69 145 L344.16 145 L344.16 129 L352.63 129 L352.63 108 L361.1 108 L361.1 95 L369.57 95 L369.57 96 L378.04 96 L378.04 106.4 L386.51 106.4 L386.51 121 L394.98 121 L394.98 146.4 L403.45 146.4 L403.45 162 L411.92 162 L411.92 183.6 L420.39 183.6 L420.39 198 L428.86 198 L428.86 206 L437.33 206 L437.33 212 L445.8 212 L445.8 215.3 L437.33 215.3 L437.33 212 L428.86 212 L428.86 207 L420.39 207 L420.39 196 L411.92 196 L411.92 177 L403.45 177 L403.45 167 L394.98 167 L394.98 149 L386.51 149 L386.51 132 L378.04 132 L378.04 124.4 L369.57 124.4 L369.57 122 L361.1 122 L361.1 134 L352.63 134 L352.63 148 L344.16 148 L344.16 170 L335.69 170 L335.69 182 L327.22 182 L327.22 192.4 L318.75 192.4 L318.75 202 L310.28 202 L310.28 210 L301.81 210 L301.81 211 L293.34 211 L293.34 214.5 L284.87 214.5 L284.87 215.3 L276.4 215.3Z" fill="#F8DC05"/>
<path d="M454.27 213.2 L462.74 213.2 L462.74 212 L471.21 212 L471.21 210.6 L481 210.6 L481 215.3 L471.21 215.3 L471.21 215.3 L462.74 215.3 L462.74 215.3 L454.27 215.3Z" fill="#F8DC05"/>
<path d="M276.4 214.6 L284.87 214.6 L284.87 212.6 L293.34 212.6 L293.34 208.9 L301.81 208.9 L301.81 204 L310.28 204 L310.28 197 L318.75 197 L318.75 186 L327.22 186 L327.22 173.6 L335.69 173.6 L335.69 160 L344.16 160 L344.16 137 L352.63 137 L352.63 121 L361.1 121 L361.1 108 L369.57 108 L369.57 110 L378.04 110 L378.04 119 L386.51 119 L386.51 138 L394.98 138 L394.98 156 L403.45 156 L403.45 171 L411.92 171 L411.92 191 L420.39 191 L420.39 201.6 L428.86 201.6 L428.86 210 L437.33 210 L437.33 213 L445.8 213 L445.8 214.8 L481 214.8" fill="none" stroke="#109A76" stroke-width="1.9" stroke-linejoin="miter"/>
<path d="M306 208.5V213.5M302.2 208.5H309.8M302.2 213.5H309.8M301.77 211H310.23M301.77 207.2V214.8M310.23 207.2V214.8M314.5 205V212M310.7 205H318.3M310.7 212H318.3M310.27 208.4H318.73M310.27 204.6V212.2M318.73 204.6V212.2M323 186V199M319.2 186H326.8M319.2 199H326.8M318.77 192H327.23M318.77 188.2V195.8M327.23 188.2V195.8M331.5 157V177M327.7 157H335.3M327.7 177H335.3M327.27 168.4H335.73M327.27 164.6V172.2M335.73 164.6V172.2M340 150V171M336.2 150H343.8M336.2 171H343.8M335.77 160H344.23M335.77 156.2V163.8M344.23 156.2V163.8M348.4 113.6V141M344.6 113.6H352.2M344.6 141H352.2M344.17 129H352.63M344.17 125.2V132.8M352.63 125.2V132.8M356.8 89.6V120M353 89.6H360.6M353 120H360.6M352.57 105H361.03M352.57 101.2V108.8M361.03 101.2V108.8M365.3 75V106M361.5 75H369.1M361.5 106H369.1M361.07 91H369.53M361.07 87.2V94.8M369.53 87.2V94.8M373.8 72.4V102.4M370 72.4H377.6M370 102.4H377.6M369.57 87.6H378.03M369.57 83.8V91.4M378.03 83.8V91.4M382.2 99V126M378.4 99H386M378.4 126H386M377.97 113.6H386.43M377.97 109.8V117.4M386.43 109.8V117.4M390.7 125V148M386.9 125H394.5M386.9 148H394.5M386.47 137H394.93M386.47 133.2V140.8M394.93 133.2V140.8M399.2 154V173M395.4 154H403M395.4 173H403M394.97 163H403.43M394.97 159.2V166.8M403.43 159.2V166.8M407.6 173V188M403.8 173H411.4M403.8 188H411.4M403.37 180H411.83M403.37 176.2V183.8M411.83 176.2V183.8M416.1 194V204.4M412.3 194H419.9M412.3 204.4H419.9M411.87 199H420.33M411.87 195.2V202.8M420.33 195.2V202.8M424.6 202V209.6M420.8 202H428.4M420.8 209.6H428.4M420.37 205.6H428.83M420.37 201.8V209.4M428.83 201.8V209.4M441.5 209.5V213.5M437.7 209.5H445.3M437.7 213.5H445.3M437.27 211.6H445.73M437.27 207.8V215.4M445.73 207.8V215.4" fill="none" stroke="#4F9804" stroke-width="1.45"/>
<g fill="#4F9804"><polygon points="306,205.4 307.23,209.3 311.33,209.27 308,211.65 309.29,215.53 306,213.1 302.71,215.53 304,211.65 300.67,209.27 304.77,209.3"/><polygon points="314.5,202.8 315.73,206.7 319.83,206.67 316.5,209.05 317.79,212.93 314.5,210.5 311.21,212.93 312.5,209.05 309.17,206.67 313.27,206.7"/><polygon points="323,186.4 324.23,190.3 328.33,190.27 325,192.65 326.29,196.53 323,194.1 319.71,196.53 321,192.65 317.67,190.27 321.77,190.3"/><polygon points="331.5,162.8 332.73,166.7 336.83,166.67 333.5,169.05 334.79,172.93 331.5,170.5 328.21,172.93 329.5,169.05 326.17,166.67 330.27,166.7"/><polygon points="340,154.4 341.23,158.3 345.33,158.27 342,160.65 343.29,164.53 340,162.1 336.71,164.53 338,160.65 334.67,158.27 338.77,158.3"/><polygon points="348.4,123.4 349.63,127.3 353.73,127.27 350.4,129.65 351.69,133.53 348.4,131.1 345.11,133.53 346.4,129.65 343.07,127.27 347.17,127.3"/><polygon points="356.8,99.4 358.03,103.3 362.13,103.27 358.8,105.65 360.09,109.53 356.8,107.1 353.51,109.53 354.8,105.65 351.47,103.27 355.57,103.3"/><polygon points="365.3,85.4 366.53,89.3 370.63,89.27 367.3,91.65 368.59,95.53 365.3,93.1 362.01,95.53 363.3,91.65 359.97,89.27 364.07,89.3"/><polygon points="373.8,82 375.03,85.9 379.13,85.87 375.8,88.25 377.09,92.13 373.8,89.7 370.51,92.13 371.8,88.25 368.47,85.87 372.57,85.9"/><polygon points="382.2,108 383.43,111.9 387.53,111.87 384.2,114.25 385.49,118.13 382.2,115.7 378.91,118.13 380.2,114.25 376.87,111.87 380.97,111.9"/><polygon points="390.7,131.4 391.93,135.3 396.03,135.27 392.7,137.65 393.99,141.53 390.7,139.1 387.41,141.53 388.7,137.65 385.37,135.27 389.47,135.3"/><polygon points="399.2,157.4 400.43,161.3 404.53,161.27 401.2,163.65 402.49,167.53 399.2,165.1 395.91,167.53 397.2,163.65 393.87,161.27 397.97,161.3"/><polygon points="407.6,174.4 408.83,178.3 412.93,178.27 409.6,180.65 410.89,184.53 407.6,182.1 404.31,184.53 405.6,180.65 402.27,178.27 406.37,178.3"/><polygon points="416.1,193.4 417.33,197.3 421.43,197.27 418.1,199.65 419.39,203.53 416.1,201.1 412.81,203.53 414.1,199.65 410.77,197.27 414.87,197.3"/><polygon points="424.6,200 425.83,203.9 429.93,203.87 426.6,206.25 427.89,210.13 424.6,207.7 421.31,210.13 422.6,206.25 419.27,203.87 423.37,203.9"/><polygon points="441.5,206 442.73,209.9 446.83,209.87 443.5,212.25 444.79,216.13 441.5,213.7 438.21,216.13 439.5,212.25 436.17,209.87 440.27,209.9"/></g>
<path d="M482.6 205.6 L493.8 205.6 L493.8 192 L505 192 L505 187 L516.2 187 L516.2 171.6 L527.4 171.6 L527.4 148 L538.6 148 L538.6 118.4 L549.8 118.4 L549.8 85.6 L561 85.6 L561 88.4 L572.2 88.4 L572.2 93.6 L583.4 93.6 L583.4 98 L594.6 98 L594.6 129 L605.8 129 L605.8 140 L617 140 L617 169.4 L628.2 169.4 L628.2 190 L639.4 190 L639.4 203.7 L650.6 203.7 L650.6 208.7 L661.8 208.7 L661.8 212 L673 212 L673 213.3 L684.2 213.3 L684.2 213.8 L695.4 213.8 L695.4 215.5 L684.2 215.5 L684.2 215.5 L673 215.5 L673 215.5 L661.8 215.5 L661.8 215 L650.6 215 L650.6 210.7 L639.4 210.7 L639.4 201.7 L628.2 201.7 L628.2 185.8 L617 185.8 L617 160 L605.8 160 L605.8 153 L594.6 153 L594.6 125.6 L583.4 125.6 L583.4 121.6 L572.2 121.6 L572.2 116 L561 116 L561 113.6 L549.8 113.6 L549.8 143 L538.6 143 L538.6 166 L527.4 166 L527.4 187.6 L516.2 187.6 L516.2 199 L505 199 L505 204.4 L493.8 204.4 L493.8 211.6 L482.6 211.6Z" fill="#F8DC05"/>
<path d="M481 214.8 L482 214.8 L482.6 209 L493.8 209 L493.8 198 L505 198 L505 192.4 L516.2 192.4 L516.2 179 L527.4 179 L527.4 156.4 L538.6 156.4 L538.6 130 L549.8 130 L549.8 99.6 L561 99.6 L561 102.4 L572.2 102.4 L572.2 108 L583.4 108 L583.4 112.4 L594.6 112.4 L594.6 141.5 L605.8 141.5 L605.8 150 L617 150 L617 177.8 L628.2 177.8 L628.2 195.3 L639.4 195.3 L639.4 207.3 L650.6 207.3 L650.6 211.7 L661.8 211.7 L661.8 213.3 L673 213.3 L673 214.8 L697.2 214.8" fill="none" stroke="#109A76" stroke-width="1.9" stroke-linejoin="miter"/>
<path d="M499.3 192.4V204M495.5 192.4H503.1M495.5 204H503.1M493.65 198H504.95M493.65 194.2V201.8M504.95 194.2V201.8M510.6 169V186M506.8 169H514.4M506.8 186H514.4M504.95 178H516.25M504.95 174.2V181.8M516.25 174.2V181.8M521.9 152.6V173.6M518.1 152.6H525.7M518.1 173.6H525.7M516.25 163H527.55M516.25 159.2V166.8M527.55 159.2V166.8M533.2 134.4V157M529.4 134.4H537M529.4 157H537M527.55 147H538.85M527.55 143.2V150.8M538.85 143.2V150.8M544.5 137V160M540.7 137H548.3M540.7 160H548.3M538.85 149H550.15M538.85 145.2V152.8M550.15 145.2V152.8M555.5 91V120M551.7 91H559.3M551.7 120H559.3M549.85 105.6H561.15M549.85 101.8V109.4M561.15 101.8V109.4M566.7 98V126M562.9 98H570.5M562.9 126H570.5M561.05 112H572.35M561.05 108.2V115.8M572.35 108.2V115.8M577.8 63V96M574 63H581.6M574 96H581.6M572.15 79.5H583.45M572.15 75.7V83.3M583.45 75.7V83.3M589 75V106M585.2 75H592.8M585.2 106H592.8M583.35 91H594.65M583.35 87.2V94.8M594.65 87.2V94.8M600.3 114.4V141M596.5 114.4H604.1M596.5 141H604.1M594.65 128H605.95M594.65 124.2V131.8M605.95 124.2V131.8M611.5 160V179.4M607.7 160H615.3M607.7 179.4H615.3M605.85 169.8H617.15M605.85 166V173.6M617.15 166V173.6M622.7 182V196.7M618.9 182H626.5M618.9 196.7H626.5M617.05 189.8H628.35M617.05 186V193.6M628.35 186V193.6M633.8 207.7V214M630 207.7H637.6M630 214H637.6M628.15 211.3H639.45M628.15 207.5V215.1M639.45 207.5V215.1" fill="none" stroke="#4F9804" stroke-width="1.45"/>
<g fill="#4F9804"><polygon points="499.3,192.4 500.53,196.3 504.63,196.27 501.3,198.65 502.59,202.53 499.3,200.1 496.01,202.53 497.3,198.65 493.97,196.27 498.07,196.3"/><polygon points="510.6,172.4 511.83,176.3 515.93,176.27 512.6,178.65 513.89,182.53 510.6,180.1 507.31,182.53 508.6,178.65 505.27,176.27 509.37,176.3"/><polygon points="521.9,157.4 523.13,161.3 527.23,161.27 523.9,163.65 525.19,167.53 521.9,165.1 518.61,167.53 519.9,163.65 516.57,161.27 520.67,161.3"/><polygon points="533.2,141.4 534.43,145.3 538.53,145.27 535.2,147.65 536.49,151.53 533.2,149.1 529.91,151.53 531.2,147.65 527.87,145.27 531.97,145.3"/><polygon points="544.5,143.4 545.73,147.3 549.83,147.27 546.5,149.65 547.79,153.53 544.5,151.1 541.21,153.53 542.5,149.65 539.17,147.27 543.27,147.3"/><polygon points="555.5,100 556.73,103.9 560.83,103.87 557.5,106.25 558.79,110.13 555.5,107.7 552.21,110.13 553.5,106.25 550.17,103.87 554.27,103.9"/><polygon points="566.7,106.4 567.93,110.3 572.03,110.27 568.7,112.65 569.99,116.53 566.7,114.1 563.41,116.53 564.7,112.65 561.37,110.27 565.47,110.3"/><polygon points="577.8,73.9 579.03,77.8 583.13,77.77 579.8,80.15 581.09,84.03 577.8,81.6 574.51,84.03 575.8,80.15 572.47,77.77 576.57,77.8"/><polygon points="589,85.4 590.23,89.3 594.33,89.27 591,91.65 592.29,95.53 589,93.1 585.71,95.53 587,91.65 583.67,89.27 587.77,89.3"/><polygon points="600.3,122.4 601.53,126.3 605.63,126.27 602.3,128.65 603.59,132.53 600.3,130.1 597.01,132.53 598.3,128.65 594.97,126.27 599.07,126.3"/><polygon points="611.5,164.2 612.73,168.1 616.83,168.07 613.5,170.45 614.79,174.33 611.5,171.9 608.21,174.33 609.5,170.45 606.17,168.07 610.27,168.1"/><polygon points="622.7,184.2 623.93,188.1 628.03,188.07 624.7,190.45 625.99,194.33 622.7,191.9 619.41,194.33 620.7,190.45 617.37,188.07 621.47,188.1"/><polygon points="633.8,205.7 635.03,209.6 639.13,209.57 635.8,211.95 637.09,215.83 633.8,213.4 630.51,215.83 631.8,211.95 628.47,209.57 632.57,209.6"/></g>
<path d="M100 296.4 L107.5 296.4 L107.5 310 L115 310 L115 349 L122.5 349 L122.5 381.5 L130 381.5 L130 410 L137.5 410 L137.5 426 L145 426 L145 446 L152.5 446 L152.5 460 L160 460 L160 467 L167.5 467 L167.5 470 L175 470 L175 473.6 L182.5 473.6 L182.5 476 L190 476 L190 478 L197.5 478 L197.5 479.6 L205 479.6 L205 480.4 L212.5 480.4 L212.5 480.4 L220 480.4 L220 485 L212.5 485 L212.5 485 L205 485 L205 485 L197.5 485 L197.5 485 L190 485 L190 485 L182.5 485 L182.5 485 L175 485 L175 485 L167.5 485 L167.5 483 L160 483 L160 480 L152.5 480 L152.5 474 L145 474 L145 460 L137.5 460 L137.5 449.6 L130 449.6 L130 426 L122.5 426 L122.5 408 L115 408 L115 374 L107.5 374 L107.5 368 L100 368Z" fill="#F9BDF1"/>
<path d="M220 481.6 L234 481.6 L234 479.6 L248 479.6 L248 481 L264.2 481 L264.2 485 L248 485 L248 485 L234 485 L234 485 L220 485Z" fill="#F9BDF1"/>
<path d="M50 483.4 L100 483.4 L100 332.4 L107.5 332.4 L107.5 342.4 L115 342.4 L115 378.4 L122.5 378.4 L122.5 404 L130 404 L130 431 L137.5 431 L137.5 444.4 L145 444.4 L145 462.8 L152.5 462.8 L152.5 470.5 L160 470.5 L160 475.3 L167.5 475.3 L167.5 478 L175 478 L175 479 L182.5 479 L182.5 480.4 L190 480.4 L190 481.6 L197.5 481.6 L197.5 482.6 L205 482.6 L205 482.6 L212.5 482.6 L212.5 482.6 L220 482.6" fill="none" stroke="#A3104C" stroke-width="1.75" stroke-linejoin="miter"/>
<path d="M96 469.6V483.6M92.2 469.6H99.8M92.25 478H99.75M92.25 474.2V481.8M99.75 474.2V481.8M103.6 317V375.6M99.8 317H107.4M99.8 375.6H107.4M99.85 347H107.35M99.85 343.2V350.8M107.35 343.2V350.8M111 336V393.6M107.2 336H114.8M107.2 393.6H114.8M107.25 365.4H114.75M107.25 361.6V369.2M114.75 361.6V369.2M118.6 368V418.4M114.8 368H122.4M114.8 418.4H122.4M114.85 394H122.35M114.85 390.2V397.8M122.35 390.2V397.8M126.2 393V437.4M122.4 393H130M122.4 437.4H130M122.45 415.6H129.95M122.45 411.8V419.4M129.95 411.8V419.4M133.6 406V447M129.8 406H137.4M129.8 447H137.4M129.85 426.4H137.35M129.85 422.6V430.2M137.35 422.6V430.2M141 416V454M137.2 416H144.8M137.2 454H144.8M137.25 435H144.75M137.25 431.2V438.8M144.75 431.2V438.8M148.4 423.6V458M144.6 423.6H152.2M144.6 458H152.2M144.65 441H152.15M144.65 437.2V444.8M152.15 437.2V444.8M155.8 448V473M152 448H159.6M152 473H159.6M152.05 461H159.55M152.05 457.2V464.8M159.55 457.2V464.8M163.2 455V477M159.4 455H167M159.4 477H167M159.45 466H166.95M159.45 462.2V469.8M166.95 462.2V469.8M170.6 471V484.5M166.8 471H174.4M166.85 478.4H174.35M166.85 474.6V482.2M174.35 474.6V482.2M178 471V484.5M174.2 471H181.8M174.25 478.4H181.75M174.25 474.6V482.2M181.75 474.6V482.2" fill="none" stroke="#E03E04" stroke-width="1.45"/>
<g fill="#E03E04"><polygon points="96,472.4 97.23,476.3 101.33,476.27 98,478.65 99.29,482.53 96,480.1 92.71,482.53 94,478.65 90.67,476.27 94.77,476.3"/><polygon points="103.6,341.4 104.83,345.3 108.93,345.27 105.6,347.65 106.89,351.53 103.6,349.1 100.31,351.53 101.6,347.65 98.27,345.27 102.37,345.3"/><polygon points="111,359.8 112.23,363.7 116.33,363.67 113,366.05 114.29,369.93 111,367.5 107.71,369.93 109,366.05 105.67,363.67 109.77,363.7"/><polygon points="118.6,388.4 119.83,392.3 123.93,392.27 120.6,394.65 121.89,398.53 118.6,396.1 115.31,398.53 116.6,394.65 113.27,392.27 117.37,392.3"/><polygon points="126.2,410 127.43,413.9 131.53,413.87 128.2,416.25 129.49,420.13 126.2,417.7 122.91,420.13 124.2,416.25 120.87,413.87 124.97,413.9"/><polygon points="133.6,420.8 134.83,424.7 138.93,424.67 135.6,427.05 136.89,430.93 133.6,428.5 130.31,430.93 131.6,427.05 128.27,424.67 132.37,424.7"/><polygon points="141,429.4 142.23,433.3 146.33,433.27 143,435.65 144.29,439.53 141,437.1 137.71,439.53 139,435.65 135.67,433.27 139.77,433.3"/><polygon points="148.4,435.4 149.63,439.3 153.73,439.27 150.4,441.65 151.69,445.53 148.4,443.1 145.11,445.53 146.4,441.65 143.07,439.27 147.17,439.3"/><polygon points="155.8,455.4 157.03,459.3 161.13,459.27 157.8,461.65 159.09,465.53 155.8,463.1 152.51,465.53 153.8,461.65 150.47,459.27 154.57,459.3"/><polygon points="163.2,460.4 164.43,464.3 168.53,464.27 165.2,466.65 166.49,470.53 163.2,468.1 159.91,470.53 161.2,466.65 157.87,464.27 161.97,464.3"/><polygon points="170.6,472.8 171.83,476.7 175.93,476.67 172.6,479.05 173.89,482.93 170.6,480.5 167.31,482.93 168.6,479.05 165.27,476.67 169.37,476.7"/><polygon points="178,472.8 179.23,476.7 183.33,476.67 180,479.05 181.29,482.93 178,480.5 174.71,482.93 176,479.05 172.67,476.67 176.77,476.7"/></g>
<path d="M264.2 481 L274.5 481 L274.5 485 L264.2 485Z" fill="#F9BDF1"/>
<path d="M274.5 477 L288.07 477 L288.07 468.1 L301.64 468.1 L301.64 457 L315.21 457 L315.21 444 L328.78 444 L328.78 432 L342.35 432 L342.35 401.6 L355.92 401.6 L355.92 387 L369.49 387 L369.49 378 L383.06 378 L383.06 371.6 L396.63 371.6 L396.63 378 L410.2 378 L410.2 393 L423.77 393 L423.77 430 L437.34 430 L437.34 446 L450.91 446 L450.91 465 L464.48 465 L464.48 478 L478.05 478 L478.05 483.8 L464.48 483.8 L464.48 482 L450.91 482 L450.91 469 L437.34 469 L437.34 457 L423.77 457 L423.77 436 L410.2 436 L410.2 425 L396.63 425 L396.63 422 L383.06 422 L383.06 430 L369.49 430 L369.49 436.6 L355.92 436.6 L355.92 442 L342.35 442 L342.35 461.2 L328.78 461.2 L328.78 465.2 L315.21 465.2 L315.21 479 L301.64 479 L301.64 482.5 L288.07 482.5 L288.07 485 L274.5 485Z" fill="#F9BDF1"/>
<path d="M264.2 483.6 L274.5 483.6 L274.5 481.1 L288.07 481.1 L288.07 474.8 L301.64 474.8 L301.64 467.2 L315.21 467.2 L315.21 457.9 L328.78 457.9 L328.78 445.2 L342.35 445.2 L342.35 422 L355.92 422 L355.92 411 L369.49 411 L369.49 404 L383.06 404 L383.06 396 L396.63 396 L396.63 401 L410.2 401 L410.2 414 L423.77 414 L423.77 447 L437.34 447 L437.34 459.4 L450.91 459.4 L450.91 473 L464.48 473 L464.48 481 L478.05 481 L478.05 482.4 L481 482.4" fill="none" stroke="#A3104C" stroke-width="1.75" stroke-linejoin="miter"/>
<path d="M322 457.2V477.4M318.2 457.2H325.8M318.2 477.4H325.8M315.2 466.5H328.8M315.2 462.7V470.3M328.8 462.7V470.3M335.4 412.4V449M331.6 412.4H339.2M331.6 449H339.2M328.6 431.3H342.2M328.6 427.5V435.1M342.2 427.5V435.1M349 364.4V413M345.2 364.4H352.8M345.2 413H352.8M342.2 389H355.8M342.2 385.2V392.8M355.8 385.2V392.8M362.5 332.4V386M358.7 332.4H366.3M358.7 386H366.3M355.7 359H369.3M355.7 355.2V362.8M369.3 355.2V362.8M376 351V402.4M372.2 351H379.8M372.2 402.4H379.8M369.2 377H382.8M369.2 373.2V380.8M382.8 373.2V380.8M389.5 382.6V426M385.7 382.6H393.3M385.7 426H393.3M382.7 404H396.3M382.7 400.2V407.8M396.3 400.2V407.8M403 397.4V436M399.2 397.4H406.8M399.2 436H406.8M396.2 417H409.8M396.2 413.2V420.8M409.8 413.2V420.8M416.6 446.6V471.6M412.8 446.6H420.4M412.8 471.6H420.4M409.8 459H423.4M409.8 455.2V462.8M423.4 455.2V462.8M430.3 423V455M426.5 423H434.1M426.5 455H434.1M423.5 439H437.1M423.5 435.2V442.8M437.1 435.2V442.8M444 460V478.4M440.2 460H447.8M440.2 478.4H447.8M437.2 469H450.8M437.2 465.2V472.8M450.8 465.2V472.8M471.2 472.4V484M467.4 472.4H475M464.4 478H478M464.4 474.2V481.8M478 474.2V481.8" fill="none" stroke="#E03E04" stroke-width="1.45"/>
<g fill="#E03E04"><polygon points="322,460.9 323.23,464.8 327.33,464.77 324,467.15 325.29,471.03 322,468.6 318.71,471.03 320,467.15 316.67,464.77 320.77,464.8"/><polygon points="335.4,425.7 336.63,429.6 340.73,429.57 337.4,431.95 338.69,435.83 335.4,433.4 332.11,435.83 333.4,431.95 330.07,429.57 334.17,429.6"/><polygon points="349,383.4 350.23,387.3 354.33,387.27 351,389.65 352.29,393.53 349,391.1 345.71,393.53 347,389.65 343.67,387.27 347.77,387.3"/><polygon points="362.5,353.4 363.73,357.3 367.83,357.27 364.5,359.65 365.79,363.53 362.5,361.1 359.21,363.53 360.5,359.65 357.17,357.27 361.27,357.3"/><polygon points="376,371.4 377.23,375.3 381.33,375.27 378,377.65 379.29,381.53 376,379.1 372.71,381.53 374,377.65 370.67,375.27 374.77,375.3"/><polygon points="389.5,398.4 390.73,402.3 394.83,402.27 391.5,404.65 392.79,408.53 389.5,406.1 386.21,408.53 387.5,404.65 384.17,402.27 388.27,402.3"/><polygon points="403,411.4 404.23,415.3 408.33,415.27 405,417.65 406.29,421.53 403,419.1 399.71,421.53 401,417.65 397.67,415.27 401.77,415.3"/><polygon points="416.6,453.4 417.83,457.3 421.93,457.27 418.6,459.65 419.89,463.53 416.6,461.1 413.31,463.53 414.6,459.65 411.27,457.27 415.37,457.3"/><polygon points="430.3,433.4 431.53,437.3 435.63,437.27 432.3,439.65 433.59,443.53 430.3,441.1 427.01,443.53 428.3,439.65 424.97,437.27 429.07,437.3"/><polygon points="444,463.4 445.23,467.3 449.33,467.27 446,469.65 447.29,473.53 444,471.1 440.71,473.53 442,469.65 438.67,467.27 442.77,467.3"/><polygon points="471.2,472.4 472.43,476.3 476.53,476.27 473.2,478.65 474.49,482.53 471.2,480.1 467.91,482.53 469.2,478.65 465.87,476.27 469.97,476.3"/></g>
<path d="M505 450 L516.2 450 L516.2 428 L527.4 428 L527.4 426 L538.6 426 L538.6 373.6 L549.8 373.6 L549.8 363 L561 363 L561 359 L572.2 359 L572.2 395.6 L583.4 395.6 L583.4 399.6 L594.6 399.6 L594.6 444.6 L605.8 444.6 L605.8 439 L617 439 L617 471.7 L628.2 471.7 L628.2 471 L639.4 471 L639.4 476.9 L650.6 476.9 L650.6 476 L661.8 476 L661.8 481.6 L673 481.6 L673 482.5 L684.2 482.5 L684.2 485.4 L673 485.4 L673 485.4 L661.8 485.4 L661.8 484.5 L650.6 484.5 L650.6 484.5 L639.4 484.5 L639.4 483.5 L628.2 483.5 L628.2 483.5 L617 483.5 L617 465.5 L605.8 465.5 L605.8 469 L594.6 469 L594.6 437.5 L583.4 437.5 L583.4 434.5 L572.2 434.5 L572.2 407.5 L561 407.5 L561 410.5 L549.8 410.5 L549.8 419 L538.6 419 L538.6 460 L527.4 460 L527.4 460 L516.2 460 L516.2 475 L505 475Z" fill="#F9BDF1"/>
<path d="M481 480 L482 482 L482.6 482 L493.8 482 L493.8 456 L505 456 L505 464 L516.2 464 L516.2 443.6 L527.4 443.6 L527.4 443.6 L538.6 443.6 L538.6 396 L549.8 396 L549.8 385.6 L561 385.6 L561 384 L572.2 384 L572.2 415.3 L583.4 415.3 L583.4 418.8 L594.6 418.8 L594.6 456 L605.8 456 L605.8 451.8 L617 451.8 L617 476.9 L628.2 476.9 L628.2 476.9 L639.4 476.9 L639.4 480.6 L650.6 480.6 L650.6 479.7 L661.8 479.7 L661.8 482.5 L673 482.5 L673 483.6 L697.2 483.6" fill="none" stroke="#A3104C" stroke-width="1.75" stroke-linejoin="miter"/>
<path d="M511 433.6V464M507.2 433.6H514.8M507.2 464H514.8M505.35 449H516.65M505.35 445.2V452.8M516.65 445.2V452.8M522 428.4V461M518.2 428.4H525.8M518.2 461H525.8M516.35 444H527.65M516.35 440.2V447.8M527.65 440.2V447.8M533 379.4V424.2M529.2 379.4H536.8M529.2 424.2H536.8M527.35 401.6H538.65M527.35 397.8V405.4M538.65 397.8V405.4M544 365.6V415.6M540.2 365.6H547.8M540.2 415.6H547.8M538.35 391H549.65M538.35 387.2V394.8M549.65 387.2V394.8M555.4 333V390.4M551.6 333H559.2M551.6 390.4H559.2M549.75 362.4H561.05M549.75 358.6V366.2M561.05 358.6V366.2M566.6 354.6V406.7M562.8 354.6H570.4M562.8 406.7H570.4M560.95 380.4H572.25M560.95 376.6V384.2M572.25 376.6V384.2M578 388.6V431M574.2 388.6H581.8M574.2 431H581.8M572.35 410.2H583.65M572.35 406.4V414M583.65 406.4V414M589.2 438V466.5M585.4 438H593M585.4 466.5H593M583.55 452.2H594.85M583.55 448.4V456M594.85 448.4V456M600 432.2V461.7M596.2 432.2H603.8M596.2 461.7H603.8M594.35 448.2H605.65M594.35 444.4V452M605.65 444.4V452M611 469V484M607.2 469H614.8M605.35 476.5H616.65M605.35 472.7V480.3M616.65 472.7V480.3M622 472V484M618.2 472H625.8M616.35 477.8H627.65M616.35 474V481.6M627.65 474V481.6" fill="none" stroke="#E03E04" stroke-width="1.45"/>
<g fill="#E03E04"><polygon points="511,443.4 512.23,447.3 516.33,447.27 513,449.65 514.29,453.53 511,451.1 507.71,453.53 509,449.65 505.67,447.27 509.77,447.3"/><polygon points="522,438.4 523.23,442.3 527.33,442.27 524,444.65 525.29,448.53 522,446.1 518.71,448.53 520,444.65 516.67,442.27 520.77,442.3"/><polygon points="533,396 534.23,399.9 538.33,399.87 535,402.25 536.29,406.13 533,403.7 529.71,406.13 531,402.25 527.67,399.87 531.77,399.9"/><polygon points="544,385.4 545.23,389.3 549.33,389.27 546,391.65 547.29,395.53 544,393.1 540.71,395.53 542,391.65 538.67,389.27 542.77,389.3"/><polygon points="555.4,356.8 556.63,360.7 560.73,360.67 557.4,363.05 558.69,366.93 555.4,364.5 552.11,366.93 553.4,363.05 550.07,360.67 554.17,360.7"/><polygon points="566.6,374.8 567.83,378.7 571.93,378.67 568.6,381.05 569.89,384.93 566.6,382.5 563.31,384.93 564.6,381.05 561.27,378.67 565.37,378.7"/><polygon points="578,404.6 579.23,408.5 583.33,408.47 580,410.85 581.29,414.73 578,412.3 574.71,414.73 576,410.85 572.67,408.47 576.77,408.5"/><polygon points="589.2,446.6 590.43,450.5 594.53,450.47 591.2,452.85 592.49,456.73 589.2,454.3 585.91,456.73 587.2,452.85 583.87,450.47 587.97,450.5"/><polygon points="600,442.6 601.23,446.5 605.33,446.47 602,448.85 603.29,452.73 600,450.3 596.71,452.73 598,448.85 594.67,446.47 598.77,446.5"/><polygon points="611,470.9 612.23,474.8 616.33,474.77 613,477.15 614.29,481.03 611,478.6 607.71,481.03 609,477.15 605.67,474.77 609.77,474.8"/><polygon points="622,472.2 623.23,476.1 627.33,476.07 624,478.45 625.29,482.33 622,479.9 618.71,482.33 620,478.45 616.67,476.07 620.77,476.1"/></g>
<g font-family="Liberation Serif, serif" font-size="14" fill="#000" style="opacity:0.999">
<text x="43.3" y="23.6" text-anchor="end" >120</text>
<text x="43.3" y="56.6" text-anchor="end" >100</text>
<text x="43.3" y="89.6" text-anchor="end" >80</text>
<text x="43.3" y="122.6" text-anchor="end" >60</text>
<text x="43.3" y="155.6" text-anchor="end" >40</text>
<text x="43.3" y="188.6" text-anchor="end" >20</text>
<text x="43.3" y="215" text-anchor="end" >0</text>
<text x="43.3" y="329.6" text-anchor="end" >30</text>
<text x="43.3" y="383" text-anchor="end" >20</text>
<text x="43.3" y="436.4" text-anchor="end" >10</text>
<text x="43.3" y="279.5" text-anchor="end" >40</text>
<text x="43.3" y="484" text-anchor="end" >0</text>
<text x="75.1" y="237" text-anchor="middle" >-1</text>
<text x="127.1" y="237" text-anchor="middle" >0</text>
<text x="179.1" y="237" text-anchor="middle" >1</text>
<text x="231.1" y="237" text-anchor="middle" >2</text>
<text x="277.4" y="237" text-anchor="middle" >-8</text>
<text x="318.05" y="237" text-anchor="middle" >-7</text>
<text x="358.7" y="237" text-anchor="middle" >-6</text>
<text x="399.35" y="237" text-anchor="middle" >-5</text>
<text x="440" y="237" text-anchor="middle" >-4</text>
<text x="480.65" y="237" text-anchor="middle" >-3</text>
<text x="481" y="237" text-anchor="middle" >0</text>
<text x="535.05" y="237" text-anchor="middle" >1</text>
<text x="589.1" y="237" text-anchor="middle" >2</text>
<text x="643.15" y="237" text-anchor="middle" >3</text>
<text x="697.2" y="237" text-anchor="middle" >4</text>
<text x="47.8" y="505.8" text-anchor="middle" >-7</text>
<text x="101.9" y="505.8" text-anchor="middle" >-6</text>
<text x="156" y="505.8" text-anchor="middle" >-5</text>
<text x="210.1" y="505.8" text-anchor="middle" >-4</text>
<text x="264.2" y="505.8" text-anchor="middle" >-3</text>
<text x="264.6" y="505.8" text-anchor="middle" >-6.5</text>
<text x="297.2" y="505.8" text-anchor="middle" >-6.0</text>
<text x="329.8" y="505.8" text-anchor="middle" >-5.5</text>
<text x="362.4" y="505.8" text-anchor="middle" >-5.0</text>
<text x="395" y="505.8" text-anchor="middle" >-4.5</text>
<text x="427.6" y="505.8" text-anchor="middle" >-4.0</text>
<text x="460.2" y="505.8" text-anchor="middle" >-3.5</text>
<text x="481" y="505.8" text-anchor="middle" >0</text>
<text x="535.05" y="505.8" text-anchor="middle" >1</text>
<text x="589.1" y="505.8" text-anchor="middle" >2</text>
<text x="643.15" y="505.8" text-anchor="middle" >3</text>
<text x="697.2" y="505.8" text-anchor="middle" >4</text>
<text x="156" y="256" text-anchor="middle" font-size="13.5">Log(F<tspan font-size="6.5" dy="2">p</tspan><tspan dy="-2">)</tspan> [ph/cm<tspan font-size="7.2" dy="-6">2</tspan><tspan dy="6"> s]</tspan></text>
<text x="372.6" y="256" text-anchor="middle" font-size="13.5">Log(Fluence [erg/cm<tspan font-size="7.2" dy="-6">2</tspan><tspan dy="6">])</tspan></text>
<text x="589" y="256" text-anchor="middle" font-size="13.5">Log(T90 [erg/cm<tspan font-size="7.2" dy="-6">2</tspan><tspan dy="6">])</tspan></text>
<text x="156" y="524" text-anchor="middle" font-size="13.5">Log(F<tspan font-size="6.5" dy="2">p</tspan><tspan dy="-2">)</tspan> [erg/cm<tspan font-size="7.2" dy="-6">2</tspan><tspan dy="6"> s]</tspan></text>
<text x="372.6" y="524" text-anchor="middle" font-size="13.5">Log(Fluence [erg/cm<tspan font-size="7.2" dy="-6">2</tspan><tspan dy="6">])</tspan></text>
<text x="589" y="524" text-anchor="middle" font-size="13.5">Log(T90 [erg/cm<tspan font-size="7.2" dy="-6">2</tspan><tspan dy="6">])</tspan></text>
<text transform="translate(10,107.6) rotate(-90)" text-anchor="middle" font-size="13.6">Number</text>
<text transform="translate(17,376) rotate(-90)" text-anchor="middle" font-size="13.6">Number</text>
</g>
</svg>
</body></html>
